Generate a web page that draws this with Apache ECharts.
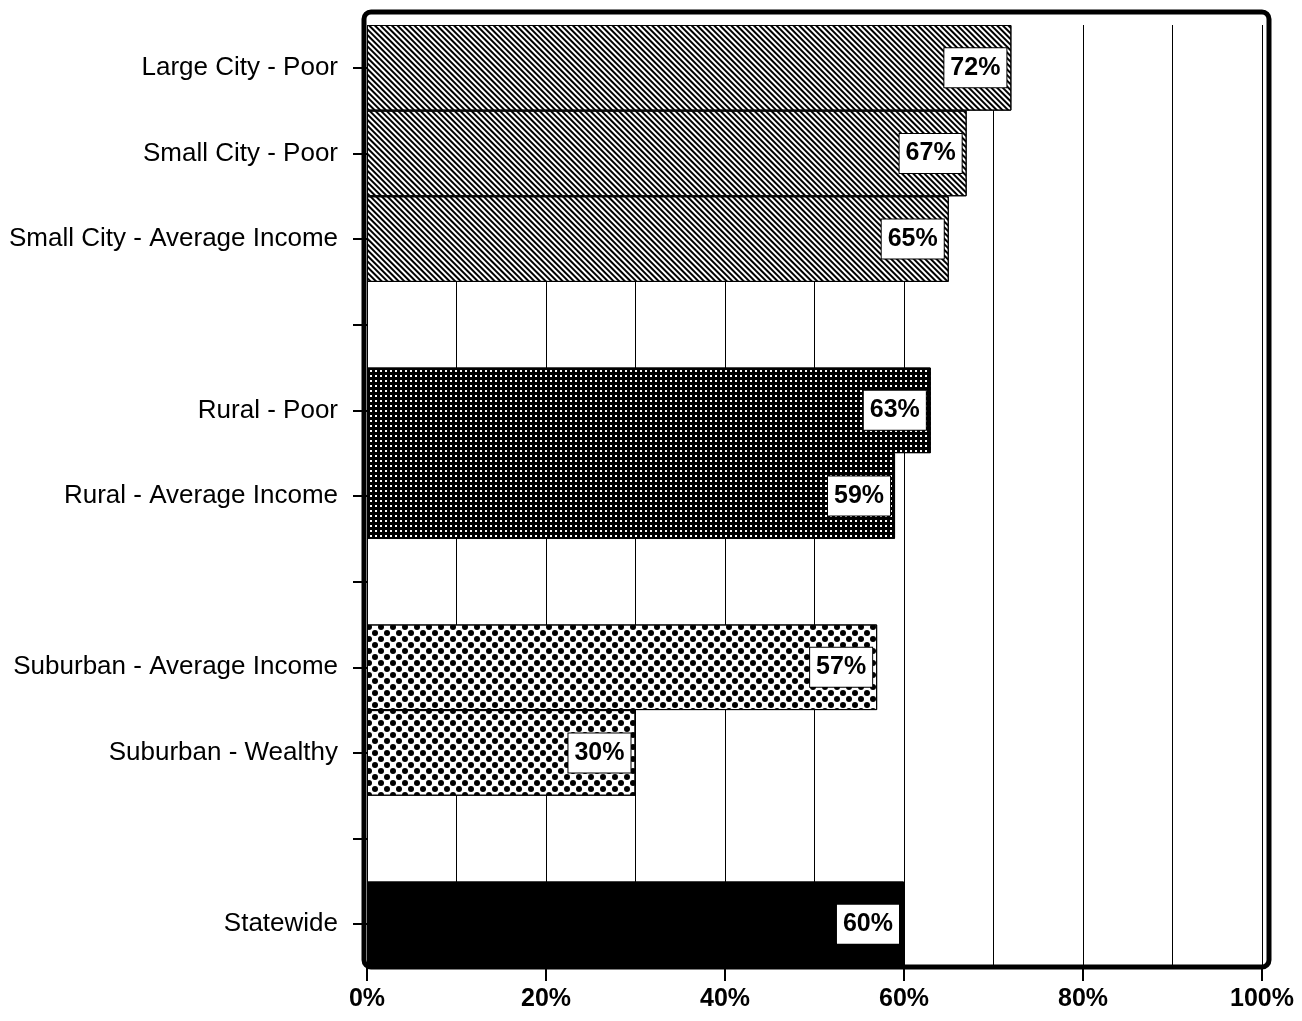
<!DOCTYPE html>
<html>
<head>
<meta charset="utf-8">
<script src="https://cdn.jsdelivr.net/npm/echarts@6/dist/echarts.min.js"></script>
<style>
  html, body { margin: 0; padding: 0; background: #fff; }
  #chart { width: 1302px; height: 1021px; }
</style>
</head>
<body>
<div id="chart"></div>
<script>
// categories top to bottom, blank slots are the gaps between groups
var categories = ['Large City - Poor', 'Small City - Poor', 'Small City - Average Income', ' ',
  'Rural - Poor', 'Rural - Average Income', '  ',
  'Suburban - Average Income', 'Suburban - Wealthy', '   ',
  'Statewide'];
var values = [72, 67, 65, null, 63, 59, null, 57, 30, null, 60];
var groups = ['city', 'city', 'city', null, 'rural', 'rural', null, 'suburb', 'suburb', null, 'state'];
var xTicks = [0, 20, 40, 60, 80, 100];

var FONT = 'Liberation Sans, Arial, sans-serif';

var fills = {
  city: {
    color: '#fff',
    decal: { symbol: 'rect', symbolSize: 1, color: '#000', dashArrayX: [1, 0], dashArrayY: [1.5, 1.5], rotation: Math.PI / 4 }
  },
  rural: {
    color: '#000',
    decal: { symbol: 'rect', symbolSize: 1, color: '#fff', dashArrayX: [2, 3], dashArrayY: [1.5, 2.5], rotation: 0 }
  },
  suburb: {
    color: '#fff',
    decal: { symbol: 'circle', symbolSize: 1, color: '#000', dashArrayX: [[6, 6], [0, 6, 6, 0]], dashArrayY: [6, 0], rotation: 0 }
  },
  state: { color: '#000' }
};

var barData = values.map(function (v, i) {
  if (v == null) return null;
  var f = fills[groups[i]];
  return {
    value: v,
    itemStyle: { color: f.color, decal: f.decal || null, borderColor: '#000', borderWidth: 1 }
  };
});

var chart = echarts.init(document.getElementById('chart'));
chart.setOption({
  backgroundColor: '#fff',
  animation: false,
  grid: { left: 367, right: 40, top: 25, bottom: 54 },
  xAxis: {
    type: 'value',
    min: 0,
    max: 100,
    interval: 20,
    axisLine: { show: false },
    axisTick: { show: true, length: 14, lineStyle: { color: '#000', width: 2 } },
    axisLabel: {
      margin: 20, fontFamily: FONT, fontSize: 25, fontWeight: 'bold', color: '#000',
      formatter: function (v) { return xTicks.indexOf(v) >= 0 ? v + '%' : ''; }
    },
    splitLine: { show: true, lineStyle: { color: '#000', width: 1 } },
    minorTick: { show: false, splitNumber: 2 },
    minorSplitLine: { show: true, lineStyle: { color: '#000', width: 1 } }
  },
  yAxis: {
    type: 'category',
    inverse: true,
    data: categories,
    axisLine: { show: false },
    axisTick: { show: true, alignWithLabel: true, interval: 0, length: 14, lineStyle: { color: '#000', width: 2 } },
    axisLabel: { interval: 0, margin: 29, fontFamily: FONT, fontSize: 26, color: '#000' }
  },
  graphic: [{
    type: 'rect',
    z: 100,
    silent: true,
    shape: { x: 364, y: 12, width: 905, height: 955, r: 7 },
    style: { fill: null, stroke: '#000', lineWidth: 5 }
  }],
  series: [{
    type: 'bar',
    data: barData,
    barCategoryGap: '0%',
    label: {
      show: true,
      position: 'insideRight',
      distance: 5,
      formatter: '{c}%',
      fontFamily: FONT,
      fontSize: 25,
      fontWeight: 'bold',
      color: '#000',
      backgroundColor: '#fff',
      borderColor: '#000',
      borderWidth: 1,
      padding: [8, 6, 6, 6]
    }
  }]
});
</script>
</body>
</html>
